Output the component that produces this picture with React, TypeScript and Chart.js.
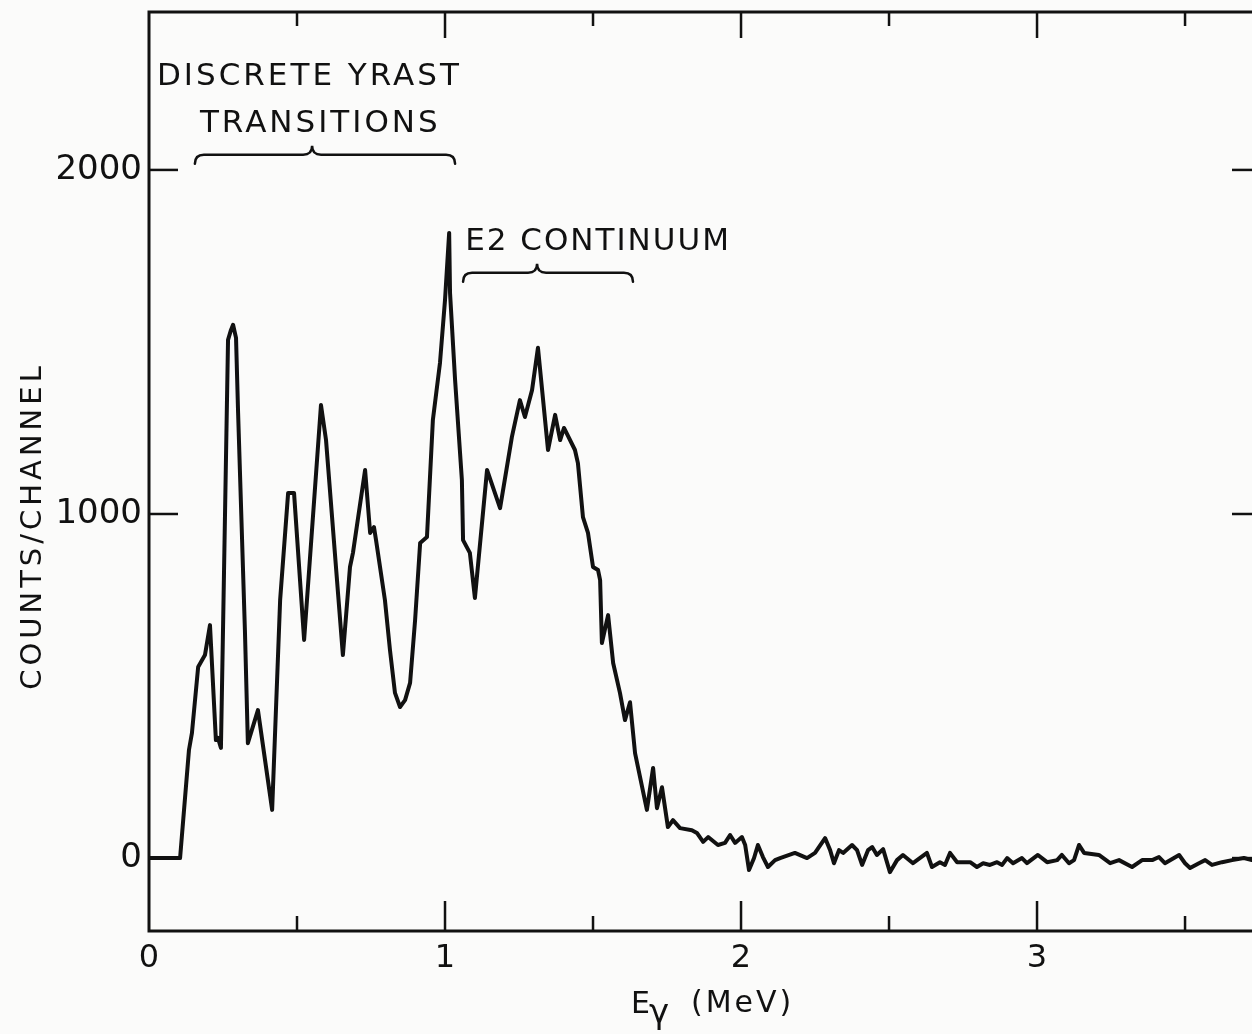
import React, { useEffect, useRef } from 'react';
import { Chart, registerables } from 'chart.js';

Chart.register(...registerables);

// ---- data (gamma-ray spectrum) ----
const energyMeV = [
  0, 0.105, 0.135, 0.145, 0.166, 0.189, 0.206, 0.226, 0.233, 0.243,
  0.25, 0.267, 0.277, 0.284, 0.294, 0.301, 0.324, 0.334, 0.368, 0.416,
  0.443, 0.47, 0.49, 0.524, 0.581, 0.598, 0.655, 0.679, 0.689, 0.73,
  0.747, 0.76, 0.767, 0.797, 0.814, 0.831, 0.848, 0.865, 0.882, 0.899,
  0.916, 0.939, 0.959, 0.983, 1.0, 1.014, 1.017, 1.034, 1.057, 1.061,
  1.084, 1.101, 1.142, 1.186, 1.226, 1.253, 1.27, 1.294, 1.314, 1.348,
  1.372, 1.389, 1.402, 1.439, 1.449, 1.466, 1.483, 1.5, 1.517, 1.524,
  1.53, 1.551, 1.568, 1.591, 1.608, 1.625, 1.642, 1.682, 1.703, 1.716,
  1.733, 1.753, 1.77, 1.794, 1.834, 1.851, 1.872, 1.889, 1.922, 1.946,
  1.963, 1.98, 2.003, 2.014, 2.027, 2.044, 2.057, 2.074, 2.091, 2.115,
  2.132, 2.182, 2.223, 2.25, 2.284, 2.301, 2.314, 2.331, 2.345, 2.375,
  2.392, 2.409, 2.429, 2.443, 2.459, 2.48, 2.503, 2.527, 2.547, 2.581,
  2.628, 2.645, 2.672, 2.689, 2.706, 2.73, 2.774, 2.797, 2.818, 2.841,
  2.865, 2.882, 2.899, 2.919, 2.949, 2.966, 3.003, 3.034, 3.068, 3.084,
  3.108, 3.125, 3.142, 3.159, 3.209, 3.247, 3.277, 3.321, 3.355, 3.389,
  3.412, 3.432, 3.48, 3.5, 3.517, 3.547, 3.568, 3.591, 3.625, 3.659,
  3.699, 3.726, 3.76,
];
const countsPerChannel = [
  0, 0, 314, 363, 555, 590, 677, 343, 349, 320,
  663, 1506, 1535, 1550, 1512, 1294, 663, 334, 430, 140,
  750, 1061, 1061, 634, 1317, 1215, 590, 846, 887, 1128,
  945, 962, 924, 750, 605, 480, 439, 459, 509, 692,
  916, 933, 1273, 1439, 1622, 1817, 1642, 1390, 1099, 924,
  887, 756, 1128, 1017, 1224, 1331, 1282, 1360, 1483, 1186,
  1288, 1215, 1250, 1186, 1148, 991, 945, 846, 837, 808,
  625, 706, 567, 480, 401, 453, 305, 140, 262, 145,
  206, 90, 110, 87, 81, 73, 47, 61, 38, 44,
  67, 44, 61, 38, -35, 0, 38, 3, -26, -6,
  0, 15, 0, 15, 58, 23, -15, 23, 15, 38,
  23, -20, 23, 32, 9, 26, -41, -6, 9, -15,
  15, -26, -12, -20, 15, -12, -12, -26, -15, -20,
  -12, -20, 0, -15, 0, -15, 9, -12, -6, 9,
  -15, -6, 38, 15, 9, -15, -6, -26, -6, -6,
  3, -15, 9, -15, -29, -15, -6, -20, -12, -6,
  0, -6, 0,
];

const xTickValues = [0, 1, 2, 3];
const xMinorTickValues = [0.5, 1.5, 2.5, 3.5];
const yTickValues = [0, 1000, 2000];
const yTitle = 'COUNTS/CHANNEL';
const xTitleMain = 'E';
const xTitleSub = 'γ';
const xTitleUnit = '(MeV)';
const yrastLines = ['DISCRETE YRAST', 'TRANSITIONS'];
const continuumLabel = 'E2 CONTINUUM';
// brace extents in MeV: [start, middle, end]
const yrastBrace = [0.155, 0.551, 1.034];
const continuumBrace = [1.061, 1.311, 1.635];

const FONT = '"DejaVu Sans", "Liberation Sans", sans-serif';
const INK = '#111111';

function drawBrace(ctx: CanvasRenderingContext2D, x1: number, xm: number, x2: number, y: number, h: number) {
  ctx.beginPath();
  ctx.moveTo(x1, y + h);
  ctx.quadraticCurveTo(x1, y, x1 + h, y);
  ctx.lineTo(xm - h, y);
  ctx.quadraticCurveTo(xm, y, xm, y - h);
  ctx.quadraticCurveTo(xm, y, xm + h, y);
  ctx.lineTo(x2 - h, y);
  ctx.quadraticCurveTo(x2, y, x2, y + h);
  ctx.stroke();
}

const decorPlugin = {
  id: 'decor',
  afterDatasetsDraw(chart: any) {
    const { ctx, chartArea: a, scales } = chart;
    const xs = scales.x;
    const ys = scales.y;
    const c = ctx as CanvasRenderingContext2D;
    c.save();
    c.strokeStyle = INK;
    c.fillStyle = INK;

    // frame
    c.lineWidth = 3;
    c.strokeRect(a.left, a.top, a.right - a.left, a.bottom - a.top);

    // inward ticks
    c.lineWidth = 2.5;
    const seg = (x1: number, y1: number, x2: number, y2: number) => {
      c.beginPath();
      c.moveTo(x1, y1);
      c.lineTo(x2, y2);
      c.stroke();
    };
    [...xTickValues, ...xMinorTickValues].forEach((v) => {
      if (v <= 0) return;
      const px = xs.getPixelForValue(v);
      const major = Number.isInteger(v);
      seg(px, a.bottom, px, a.bottom - (major ? 30 : 15));
      seg(px, a.top, px, a.top + (major ? 26 : 14));
    });
    yTickValues.forEach((v) => {
      const py = ys.getPixelForValue(v);
      seg(a.left, py, a.left + 29, py);
      seg(a.right, py, a.right - 30, py);
    });

    // annotations
    c.textBaseline = 'alphabetic';
    c.textAlign = 'left';
    c.font = `31px ${FONT}`;
    (c as any).letterSpacing = '3px';
    c.fillText(yrastLines[0], xs.getPixelForValue(0.027), ys.getPixelForValue(2247));
    c.fillText(yrastLines[1], xs.getPixelForValue(0.172), ys.getPixelForValue(2110));
    (c as any).letterSpacing = '2px';
    c.fillText(continuumLabel, xs.getPixelForValue(1.068), ys.getPixelForValue(1767));

    c.lineWidth = 2.5;
    c.lineCap = 'round';
    drawBrace(
      c,
      xs.getPixelForValue(yrastBrace[0]),
      xs.getPixelForValue(yrastBrace[1]),
      xs.getPixelForValue(yrastBrace[2]),
      ys.getPixelForValue(2044),
      9
    );
    drawBrace(
      c,
      xs.getPixelForValue(continuumBrace[0]),
      xs.getPixelForValue(continuumBrace[1]),
      xs.getPixelForValue(continuumBrace[2]),
      ys.getPixelForValue(1701),
      9
    );

    // axis titles
    (c as any).letterSpacing = '4px';
    c.font = `29px ${FONT}`;
    c.save();
    c.translate(a.left - 116, ys.getPixelForValue(965));
    c.rotate(-Math.PI / 2);
    c.textAlign = 'center';
    c.textBaseline = 'middle';
    c.fillText(yTitle, 0, 0);
    c.restore();

    (c as any).letterSpacing = '0px';
    c.textAlign = 'left';
    c.textBaseline = 'alphabetic';
    c.font = `30px ${FONT}`;
    c.fillText(xTitleMain, 631, a.bottom + 82);
    c.font = `34px ${FONT}`;
    c.fillText(xTitleSub, 649, a.bottom + 92);
    (c as any).letterSpacing = '3px';
    c.font = `30px ${FONT}`;
    c.fillText(xTitleUnit, 691, a.bottom + 81);
    (c as any).letterSpacing = '0px';
    c.restore();
  },
};

export default function App() {
  const canvasRef = useRef<HTMLCanvasElement | null>(null);

  useEffect(() => {
    const canvas = canvasRef.current;
    if (!canvas) return;
    const points = energyMeV.map((e, i) => ({ x: e, y: countsPerChannel[i] }));
    const chart = new Chart(canvas, {
      type: 'line',
      data: {
        datasets: [
          {
            data: points,
            borderColor: INK,
            borderWidth: 4,
            pointRadius: 0,
            tension: 0,
            fill: false,
            borderJoinStyle: 'round',
            borderCapStyle: 'round',
          },
        ],
      },
      options: {
        animation: false,
        responsive: false,
        maintainAspectRatio: false,
        layout: { padding: { top: 12, right: 28, left: 0, bottom: 0 } },
        plugins: { legend: { display: false }, tooltip: { enabled: false } },
        scales: {
          x: {
            type: 'linear',
            min: 0,
            max: 3.76,
            afterFit: (s: any) => {
              s.height = 103;
              s.paddingLeft = 0;
              s.paddingRight = 0;
            },
            afterBuildTicks: (s: any) => {
              s.ticks = xTickValues.map((v) => ({ value: v }));
            },
            grid: { display: false, drawTicks: false },
            border: { display: false },
            ticks: {
              autoSkip: false,
              maxRotation: 0,
              padding: 8,
              color: INK,
              font: { family: FONT, size: 32 },
              callback: (v: any) => String(v),
            },
          },
          y: {
            type: 'linear',
            min: -212,
            max: 2459,
            afterFit: (s: any) => {
              s.width = 149;
              s.paddingTop = 0;
              s.paddingBottom = 0;
            },
            afterBuildTicks: (s: any) => {
              s.ticks = yTickValues.map((v) => ({ value: v }));
            },
            grid: { display: false, drawTicks: false },
            border: { display: false },
            ticks: {
              autoSkip: false,
              padding: 7,
              color: INK,
              font: { family: FONT, size: 34 },
              callback: (v: any) => String(v),
            },
          },
        },
      },
      plugins: [decorPlugin],
    } as any);
    return () => chart.destroy();
  }, []);

  return (
    <div
      style={{
        position: 'fixed',
        left: 0,
        top: 0,
        width: 1252,
        height: 1034,
        overflow: 'hidden',
        background: '#fbfbfa',
      }}
    >
      <canvas
        ref={canvasRef}
        width={1290}
        height={1034}
        style={{ display: 'block', width: 1290, height: 1034 }}
      />
    </div>
  );
}
